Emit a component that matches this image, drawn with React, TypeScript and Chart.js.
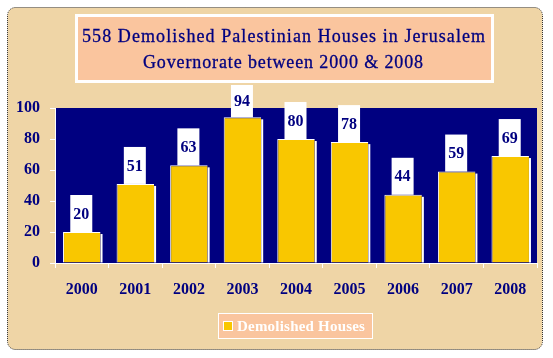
import React, { useEffect, useRef } from "react";
import { Chart, registerables } from "chart.js";

Chart.register(...registerables);

const years = ["2000", "2001", "2002", "2003", "2004", "2005", "2006", "2007", "2008"];
const demolished = [20, 51, 63, 94, 80, 78, 44, 59, 69];
const yMin = 0;
const yMax = 100;
const yStep = 20;
const titleLines = [
  "558 Demolished Palestinian Houses in Jerusalem",
  "Governorate between 2000 & 2008",
];
const seriesName = "Demolished Houses";

const NAVY = "#000080";
const CREAM = "#EFD5A6";
const SALMON = "#FAC59E";
const GOLD = "#F9C700";
const SERIF = "'Liberation Serif', 'Times New Roman', serif";

function fitText(
  ctx: CanvasRenderingContext2D,
  text: string,
  x: number,
  y: number,
  width: number,
  strokeW = 0
) {
  (ctx as any).letterSpacing = "0px";
  const w0 = ctx.measureText(text).width;
  const sp = (width - w0) / Math.max(1, text.length - 1);
  (ctx as any).letterSpacing = sp.toFixed(2) + "px";
  ctx.textAlign = "left";
  ctx.fillText(text, x, y);
  if (strokeW > 0) {
    ctx.lineWidth = strokeW;
    ctx.strokeStyle = ctx.fillStyle as string;
    ctx.strokeText(text, x, y);
  }
  (ctx as any).letterSpacing = "0px";
}

const decorPlugin = {
  id: "decor",
  beforeDraw(chart: any) {
    const ctx: CanvasRenderingContext2D = chart.ctx;
    const ca = chart.chartArea;
    ctx.save();
    ctx.fillStyle = "#ffffff";
    ctx.fillRect(0, 0, chart.width, chart.height);
    // outer frame
    ctx.beginPath();
    (ctx as any).roundRect(7.5, 7.5, 535, 342, 8);
    ctx.fillStyle = CREAM;
    ctx.fill();
    ctx.setLineDash([1, 1]);
    ctx.strokeStyle = "#333333";
    ctx.lineWidth = 1;
    ctx.stroke();
    ctx.setLineDash([]);
    // title box
    ctx.fillStyle = "#ffffff";
    ctx.fillRect(75, 14, 419, 69);
    ctx.fillStyle = SALMON;
    ctx.fillRect(78, 17, 413, 63);
    ctx.fillStyle = NAVY;
    ctx.font = "18px " + SERIF;
    ctx.textBaseline = "alphabetic";
    fitText(ctx, titleLines[0], 82, 41.5, 403, 0.3);
    fitText(ctx, titleLines[1], 143, 67.5, 280, 0.3);
    // plot area
    ctx.fillStyle = NAVY;
    ctx.fillRect(ca.left, ca.top, ca.right - ca.left, ca.bottom - ca.top);
    ctx.restore();
  },
  afterDatasetsDraw(chart: any) {
    const ctx: CanvasRenderingContext2D = chart.ctx;
    const ca = chart.chartArea;
    const meta = chart.getDatasetMeta(0);
    const data = chart.data.datasets[0].data;
    ctx.save();
    meta.data.forEach((bar: any, i: number) => {
      const right = bar.x + bar.width / 2;
      ctx.fillStyle = "#ffffff";
      ctx.fillRect(right, bar.y + 2, 2, bar.base - bar.y - 2);
      let top = bar.y - 37;
      if (top < ca.top - 23) top = ca.top - 23;
      ctx.fillRect(bar.x - 11.5, top, 22, bar.y - top);
      ctx.fillStyle = NAVY;
      ctx.font = "bold 16px " + SERIF;
      ctx.textAlign = "center";
      ctx.textBaseline = "middle";
      ctx.fillText(String(data[i]), bar.x - 0.5, (top + bar.y) / 2 + 1);
    });
    ctx.restore();
  },
  afterDraw(chart: any) {
    const ctx: CanvasRenderingContext2D = chart.ctx;
    ctx.save();
    ctx.fillStyle = "#ffffff";
    ctx.fillRect(218, 313, 155, 26);
    ctx.fillStyle = SALMON;
    ctx.fillRect(219, 314, 153, 24);
    ctx.fillStyle = "#ffffff";
    ctx.fillRect(223, 321, 10, 10);
    ctx.fillStyle = GOLD;
    ctx.fillRect(224, 322, 8, 8);
    ctx.fillStyle = "#ffffff";
    ctx.font = "bold 15px " + SERIF;
    ctx.textBaseline = "middle";
    fitText(ctx, seriesName, 237, 327, 128);
    ctx.restore();
  },
};

export default function App() {
  const ref = useRef<HTMLCanvasElement | null>(null);
  useEffect(() => {
    if (!ref.current) return;
    const chart = new Chart(ref.current, {
      type: "bar",
      data: {
        labels: years,
        datasets: [
          {
            label: seriesName,
            data: demolished,
            backgroundColor: GOLD,
            borderColor: "#ffffff",
            borderWidth: { top: 1, left: 1, right: 0, bottom: 0 } as any,
            borderSkipped: false,
            barPercentage: 0.7,
            categoryPercentage: 1,
          },
        ],
      },
      options: {
        responsive: false,
        animation: false,
        layout: { padding: { top: 108, right: 16, bottom: 0, left: 0 } },
        plugins: {
          legend: { display: false },
          title: { display: false },
          tooltip: { enabled: false },
        },
        scales: {
          x: {
            afterFit(scale: any) {
              scale.height = 95;
            },
            grid: {
              drawOnChartArea: false,
              drawTicks: true,
              tickLength: 5,
              color: "#ffffff",
            },
            border: { display: true, color: "#ffffff", width: 1 },
            ticks: {
              color: NAVY,
              padding: 12,
              font: { family: SERIF, size: 16, weight: "bold" },
            },
          },
          y: {
            min: yMin,
            max: yMax,
            afterFit(scale: any) {
              scale.width = 55;
            },
            grid: {
              drawOnChartArea: false,
              drawTicks: true,
              tickLength: 5,
              color: "#ffffff",
            },
            border: { display: true, color: "#ffffff", width: 1 },
            ticks: {
              stepSize: yStep,
              color: NAVY,
              padding: 10,
              font: { family: SERIF, size: 16, weight: "bold" },
            },
          },
        },
      },
      plugins: [decorPlugin],
    });
    return () => chart.destroy();
  }, []);
  return (
    <div style={{ position: "fixed", left: 0, top: 0, width: 553, height: 358 }}>
      <canvas ref={ref} width={553} height={358} style={{ width: 553, height: 358 }} />
    </div>
  );
}
